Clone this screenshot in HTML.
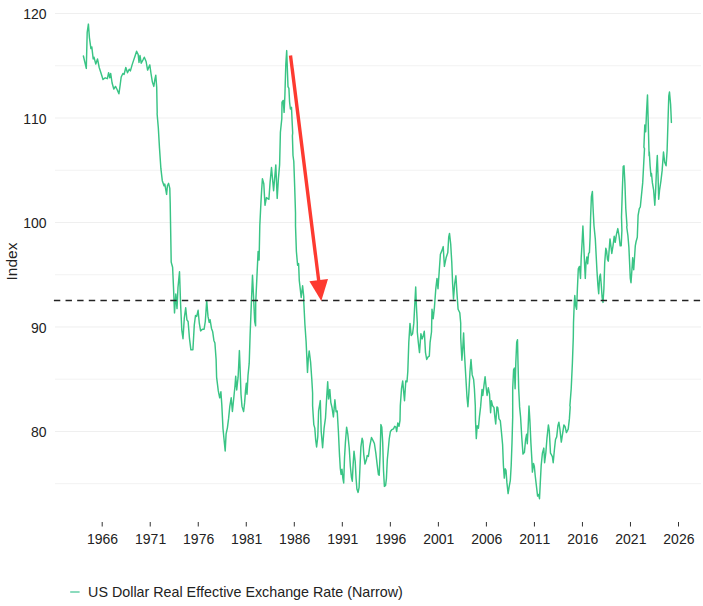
<!DOCTYPE html>
<html><head><meta charset="utf-8"><title>US Dollar Real Effective Exchange Rate</title>
<style>
html,body{margin:0;padding:0;background:#fff;}
svg{display:block;font-family:"Liberation Sans",Arial,sans-serif;font-size:14px;fill:#222;font-kerning:none;}
</style></head><body>
<svg width="703" height="606" viewBox="0 0 703 606">
<rect width="703" height="606" fill="#fff"/>
<line x1="55" x2="701" y1="13.50" y2="13.50" stroke="#efefef" stroke-width="1.0"/>
<line x1="55" x2="701" y1="65.75" y2="65.75" stroke="#f2f2f2" stroke-width="1.0"/>
<line x1="55" x2="701" y1="117.99" y2="117.99" stroke="#efefef" stroke-width="1.0"/>
<line x1="55" x2="701" y1="170.23" y2="170.23" stroke="#f2f2f2" stroke-width="1.0"/>
<line x1="55" x2="701" y1="222.48" y2="222.48" stroke="#efefef" stroke-width="1.0"/>
<line x1="55" x2="701" y1="274.73" y2="274.73" stroke="#f2f2f2" stroke-width="1.0"/>
<line x1="55" x2="701" y1="326.97" y2="326.97" stroke="#efefef" stroke-width="1.0"/>
<line x1="55" x2="701" y1="379.21" y2="379.21" stroke="#f2f2f2" stroke-width="1.0"/>
<line x1="55" x2="701" y1="431.46" y2="431.46" stroke="#efefef" stroke-width="1.0"/>
<line x1="55" x2="701" y1="483.70" y2="483.70" stroke="#f2f2f2" stroke-width="1.0"/>

<path d="M83.4 56.0 L86.3 68.4 L87.2 32.3 L88.4 24.1 L89.4 37.5 L90.9 48.6 L91.8 46.9 L93.2 58.9 L94.0 57.2 L95.8 64.1 L97.5 58.9 L99.2 67.5 L100.9 72.7 L103.0 79.5 L105.2 77.8 L107.4 78.7 L108.6 72.7 L109.8 77.8 L110.7 73.5 L112.1 83.0 L113.8 89.0 L115.5 86.4 L117.2 89.8 L118.9 93.8 L120.1 85.5 L121.2 77.0 L122.9 73.5 L124.1 74.4 L125.8 67.5 L127.5 72.7 L129.2 69.2 L130.4 70.9 L132.1 64.9 L133.5 60.6 L134.9 56.4 L136.6 51.2 L138.2 54.6 L139.0 62.4 L140.0 55.5 L141.2 63.2 L143.0 59.8 L144.3 57.2 L146.1 61.5 L147.6 70.1 L149.8 64.9 L151.0 73.5 L152.4 82.1 L153.8 86.4 L155.0 78.7 L155.8 75.2 L156.7 87.3 L157.2 113.0 L157.1 113.7 L158.3 127.5 L159.5 148.1 L160.9 168.7 L162.3 180.7 L164.0 185.8 L164.8 184.1 L166.6 194.4 L167.4 185.8 L168.6 183.3 L169.8 188.4 L170.2 203.0 L170.5 220.9 L171.2 262.1 L172.6 267.3 L173.5 287.2 L174.5 312.9 L175.8 294.0 L177.0 308.6 L178.0 287.2 L179.5 271.7 L180.6 304.3 L181.8 330.1 L183.0 338.7 L184.3 318.1 L185.7 307.8 L186.9 319.8 L188.1 321.5 L189.5 338.7 L190.9 349.8 L192.9 349.8 L194.3 324.9 L195.5 315.5 L196.7 316.4 L198.1 310.3 L199.3 323.2 L200.6 330.9 L202.4 329.2 L204.1 329.2 L205.3 321.5 L206.7 300.9 L208.0 316.4 L209.2 322.4 L210.1 319.8 L211.5 328.4 L212.7 331.8 L213.9 340.4 L214.9 343.0 L216.1 359.3 L216.6 377.2 L218.3 390.9 L219.7 397.8 L220.9 391.8 L221.8 404.6 L223.0 428.7 L224.0 439.0 L225.2 451.0 L226.1 433.8 L227.4 427.8 L228.6 418.4 L229.8 406.4 L231.2 397.8 L232.4 411.5 L233.8 397.8 L235.0 385.8 L235.7 376.3 L236.7 390.0 L238.1 377.2 L238.8 363.4 L239.4 350.6 L240.1 368.6 L241.0 394.3 L242.0 406.4 L243.6 411.5 L244.6 402.9 L245.5 390.9 L246.3 383.2 L247.0 394.3 L248.0 375.5 L249.2 363.4 L250.1 335.2 L251.3 304.3 L252.5 275.2 L253.5 295.8 L254.7 321.5 L255.6 325.8 L255.7 303.0 L256.9 277.3 L258.1 251.5 L259.1 260.1 L259.8 225.8 L260.9 203.4 L261.5 192.4 L262.4 178.7 L263.8 183.8 L265.0 205.3 L266.4 197.6 L268.9 199.3 L270.1 182.1 L271.5 167.5 L273.6 190.7 L275.8 164.9 L277.2 198.4 L278.4 178.7 L279.6 164.9 L280.4 132.3 L281.8 118.6 L282.0 102.1 L283.2 100.4 L284.1 112.4 L284.9 95.2 L285.8 64.3 L286.7 50.6 L287.5 72.9 L288.0 86.7 L288.9 88.4 L289.6 102.1 L290.4 109.0 L291.5 107.3 L292.1 121.0 L292.7 133.0 L292.4 135.8 L293.0 155.5 L293.8 161.5 L294.7 187.3 L295.5 213.0 L295.5 225.8 L296.4 251.5 L297.6 265.2 L298.6 263.5 L299.3 280.7 L300.3 289.3 L301.2 297.5 L302.6 285.8 L303.8 297.0 L303.7 300.3 L304.9 324.3 L306.1 341.5 L307.5 372.4 L308.3 358.7 L309.2 350.9 L310.6 362.1 L311.8 379.3 L312.6 393.0 L312.6 405.8 L313.8 424.6 L314.8 428.1 L315.7 440.1 L316.6 447.0 L317.8 436.7 L318.6 410.9 L320.3 400.6 L321.2 431.5 L322.6 447.8 L324.1 428.1 L325.5 417.8 L326.7 397.2 L327.7 381.7 L328.6 398.9 L329.8 389.4 L330.8 402.3 L332.0 407.5 L333.4 416.9 L334.9 399.7 L336.1 411.8 L337.2 410.9 L338.4 431.5 L339.6 457.3 L339.4 452.9 L340.3 468.4 L341.1 474.4 L342.0 469.2 L342.8 477.8 L343.7 483.0 L344.5 458.1 L345.4 442.6 L346.6 427.2 L347.8 434.0 L349.2 447.8 L350.4 466.7 L351.4 477.0 L352.3 481.2 L353.1 464.9 L354.0 451.2 L355.2 461.5 L356.1 478.7 L356.9 489.0 L358.1 492.4 L359.1 487.3 L360.0 466.7 L360.9 446.9 L362.1 438.3 L362.9 440.9 L363.8 454.6 L365.0 464.1 L366.4 459.8 L367.2 455.5 L368.4 456.4 L369.8 446.1 L371.5 437.5 L373.2 440.9 L374.4 443.5 L375.8 452.9 L377.2 464.9 L378.4 474.4 L379.2 475.2 L380.1 454.6 L380.9 424.6 L381.8 427.2 L382.7 442.6 L383.5 470.1 L384.4 486.4 L385.6 485.5 L386.4 478.7 L387.3 459.8 L388.2 450.3 L389.2 439.2 L390.4 431.5 L391.8 429.7 L393.5 428.9 L394.7 426.3 L395.9 427.2 L396.7 431.5 L397.8 422.9 L399.0 426.3 L400.0 420.3 L400.3 405.8 L401.5 388.7 L402.7 380.9 L403.7 392.1 L404.5 400.7 L405.8 380.9 L407.0 381.8 L407.8 371.5 L408.8 342.3 L410.0 323.4 L411.2 335.5 L412.6 333.7 L413.8 323.4 L414.7 305.8 L415.7 287.0 L416.4 305.8 L417.3 323.0 L417.3 332.0 L418.3 342.3 L419.5 352.6 L420.9 333.7 L422.1 338.9 L423.3 335.5 L424.3 331.2 L425.5 352.6 L426.7 359.5 L428.1 356.9 L429.3 356.1 L430.1 342.3 L431.5 332.0 L432.0 309.3 L433.2 318.7 L434.4 307.6 L435.8 288.7 L437.0 278.4 L438.0 288.7 L439.2 271.5 L440.4 254.3 L441.8 250.9 L443.2 246.6 L444.4 266.4 L446.1 257.8 L447.8 252.6 L448.7 237.2 L449.5 233.4 L450.7 244.0 L451.8 262.9 L452.6 283.5 L453.5 299.0 L454.7 283.5 L455.9 275.8 L456.9 292.1 L458.1 309.3 L459.8 312.7 L460.7 323.0 L460.7 337.2 L461.9 360.3 L462.9 345.8 L463.6 332.9 L464.5 354.3 L465.8 376.7 L467.0 397.3 L467.9 406.7 L468.9 392.1 L470.0 371.5 L471.0 359.5 L472.2 374.9 L473.6 379.2 L474.4 388.7 L475.3 405.8 L475.5 420.6 L476.3 438.6 L477.2 425.8 L478.4 428.3 L479.4 417.2 L480.6 406.9 L482.0 389.5 L482.8 395.5 L484.0 385.2 L485.1 376.7 L486.3 388.7 L487.1 395.5 L488.3 387.8 L489.5 393.8 L490.6 412.7 L491.4 400.7 L492.6 405.8 L494.0 407.6 L494.7 415.5 L495.7 424.0 L496.9 406.9 L497.8 407.7 L499.0 418.9 L500.3 420.6 L501.5 432.6 L502.6 444.6 L503.4 465.2 L504.3 478.1 L505.2 468.7 L506.0 470.4 L506.9 482.4 L508.1 493.6 L509.3 485.8 L510.3 480.7 L511.2 465.2 L512.0 442.9 L512.7 417.2 L512.7 388.7 L513.6 369.8 L514.4 368.1 L515.1 388.7 L515.8 362.9 L516.7 342.3 L517.5 339.7 L518.0 362.9 L518.7 388.7 L519.4 402.4 L519.6 406.9 L520.6 417.2 L521.8 437.8 L523.0 454.1 L524.4 452.4 L525.6 439.5 L526.6 434.3 L527.3 443.8 L528.2 425.8 L529.0 406.0 L529.9 420.6 L530.9 442.9 L531.8 458.4 L532.4 472.1 L533.5 463.5 L534.3 466.1 L535.2 475.5 L536.4 485.8 L537.6 496.1 L538.6 494.4 L539.5 498.7 L540.3 482.4 L541.2 465.2 L542.4 453.2 L543.8 448.1 L544.6 462.7 L545.8 453.2 L547.0 437.8 L548.4 424.9 L549.3 430.9 L550.5 453.2 L551.5 454.9 L552.4 456.7 L553.2 462.7 L554.4 449.8 L555.5 439.5 L556.7 436.9 L557.9 425.8 L558.9 422.3 L559.9 429.2 L561.3 442.1 L562.5 434.3 L563.9 424.9 L565.1 426.6 L566.4 432.6 L568.2 429.2 L569.4 418.9 L570.2 406.9 L569.9 405.8 L571.2 388.7 L572.4 362.9 L573.3 337.2 L573.5 323.0 L574.3 302.4 L574.8 295.5 L575.7 305.8 L576.6 309.3 L577.4 288.7 L578.3 268.9 L579.5 266.4 L580.5 278.4 L581.2 257.8 L582.1 242.3 L582.9 226.0 L583.8 245.8 L584.6 264.6 L585.3 278.4 L586.0 262.9 L586.9 256.9 L587.7 263.8 L588.6 253.5 L589.4 252.6 L590.1 237.2 L590.6 217.3 L591.4 196.7 L592.4 191.5 L593.1 208.7 L594.0 225.8 L595.2 237.9 L595.3 238.9 L596.1 254.3 L597.0 271.5 L597.9 285.2 L598.7 293.8 L599.6 276.7 L600.4 274.1 L601.3 285.2 L602.1 297.3 L603.0 302.4 L603.9 288.7 L604.7 262.9 L605.8 248.3 L606.6 250.9 L607.5 259.5 L608.3 261.2 L609.2 249.2 L610.0 238.9 L610.9 245.8 L611.8 253.5 L613.0 245.8 L614.2 236.3 L615.2 242.3 L616.4 234.6 L617.8 228.6 L619.0 235.5 L620.2 245.8 L621.2 245.8 L621.9 230.3 L621.5 217.3 L622.3 191.5 L623.2 166.6 L624.0 165.8 L624.9 182.9 L625.8 208.7 L627.0 225.8 L626.7 226.9 L627.9 235.5 L628.9 247.5 L629.6 262.9 L630.3 278.4 L631.0 282.7 L631.8 271.5 L632.7 257.8 L633.7 269.8 L634.4 259.5 L635.3 245.8 L636.1 241.5 L637.3 237.2 L638.1 215.5 L639.3 208.7 L640.3 207.0 L641.5 194.9 L642.7 182.9 L643.6 165.8 L644.5 148.6 L643.9 147.3 L644.8 124.9 L645.7 131.8 L646.5 112.9 L647.5 94.9 L648.2 121.5 L649.1 155.8 L649.3 152.0 L650.1 165.8 L651.0 176.1 L651.5 173.5 L652.4 182.9 L653.6 189.8 L654.8 205.2 L655.6 191.5 L656.5 169.2 L657.3 155.5 L658.0 174.3 L658.7 199.2 L659.6 189.8 L660.9 181.2 L662.1 170.9 L663.0 158.9 L663.5 152.0 L664.7 162.3 L666.1 165.8 L667.1 150.7 L668.0 121.5 L668.8 95.8 L669.5 92.0 L670.6 104.3 L671.4 122.4" fill="none" stroke="#39c485" stroke-width="1.45" stroke-linejoin="round" stroke-linecap="round"/>
<line x1="53.9" x2="700.3" y1="300.4" y2="300.4" stroke="#222" stroke-width="1.5" stroke-dasharray="6.4 5.233"/>
<line x1="290.5" y1="55.5" x2="318.9" y2="282.1" stroke="#fd3a30" stroke-width="3.4"/>
<polygon points="321.3,301.0 309.4,281.3 328.0,279.0" fill="#fd3a30"/>
<text x="46.6" y="19.10" text-anchor="end">120</text>
<text x="46.6" y="123.59" text-anchor="end">110</text>
<text x="46.6" y="228.08" text-anchor="end">100</text>
<text x="46.6" y="332.57" text-anchor="end">90</text>
<text x="46.6" y="437.06" text-anchor="end">80</text>

<line x1="102.20" x2="102.20" y1="522" y2="526.5" stroke="#333" stroke-width="1"/>
<text x="102.60" y="543.6" text-anchor="middle">1966</text>
<line x1="150.23" x2="150.23" y1="522" y2="526.5" stroke="#333" stroke-width="1"/>
<text x="150.63" y="543.6" text-anchor="middle">1971</text>
<line x1="198.25" x2="198.25" y1="522" y2="526.5" stroke="#333" stroke-width="1"/>
<text x="198.65" y="543.6" text-anchor="middle">1976</text>
<line x1="246.28" x2="246.28" y1="522" y2="526.5" stroke="#333" stroke-width="1"/>
<text x="246.68" y="543.6" text-anchor="middle">1981</text>
<line x1="294.30" x2="294.30" y1="522" y2="526.5" stroke="#333" stroke-width="1"/>
<text x="294.70" y="543.6" text-anchor="middle">1986</text>
<line x1="342.32" x2="342.32" y1="522" y2="526.5" stroke="#333" stroke-width="1"/>
<text x="342.72" y="543.6" text-anchor="middle">1991</text>
<line x1="390.35" x2="390.35" y1="522" y2="526.5" stroke="#333" stroke-width="1"/>
<text x="390.75" y="543.6" text-anchor="middle">1996</text>
<line x1="438.38" x2="438.38" y1="522" y2="526.5" stroke="#333" stroke-width="1"/>
<text x="438.77" y="543.6" text-anchor="middle">2001</text>
<line x1="486.40" x2="486.40" y1="522" y2="526.5" stroke="#333" stroke-width="1"/>
<text x="486.80" y="543.6" text-anchor="middle">2006</text>
<line x1="534.43" x2="534.43" y1="522" y2="526.5" stroke="#333" stroke-width="1"/>
<text x="534.83" y="543.6" text-anchor="middle">2011</text>
<line x1="582.45" x2="582.45" y1="522" y2="526.5" stroke="#333" stroke-width="1"/>
<text x="582.85" y="543.6" text-anchor="middle">2016</text>
<line x1="630.48" x2="630.48" y1="522" y2="526.5" stroke="#333" stroke-width="1"/>
<text x="630.88" y="543.6" text-anchor="middle">2021</text>
<line x1="678.50" x2="678.50" y1="522" y2="526.5" stroke="#333" stroke-width="1"/>
<text x="678.90" y="543.6" text-anchor="middle">2026</text>

<text transform="translate(17.3,261.5) rotate(-90)" text-anchor="middle" font-size="15.5">Index</text>
<line x1="70.2" x2="79.6" y1="592" y2="592" stroke="#4cc79a" stroke-width="1.3"/>
<text x="88.1" y="596.7" font-size="14.3">US Dollar Real Effective Exchange Rate (Narrow)</text>
</svg>
</body></html>
